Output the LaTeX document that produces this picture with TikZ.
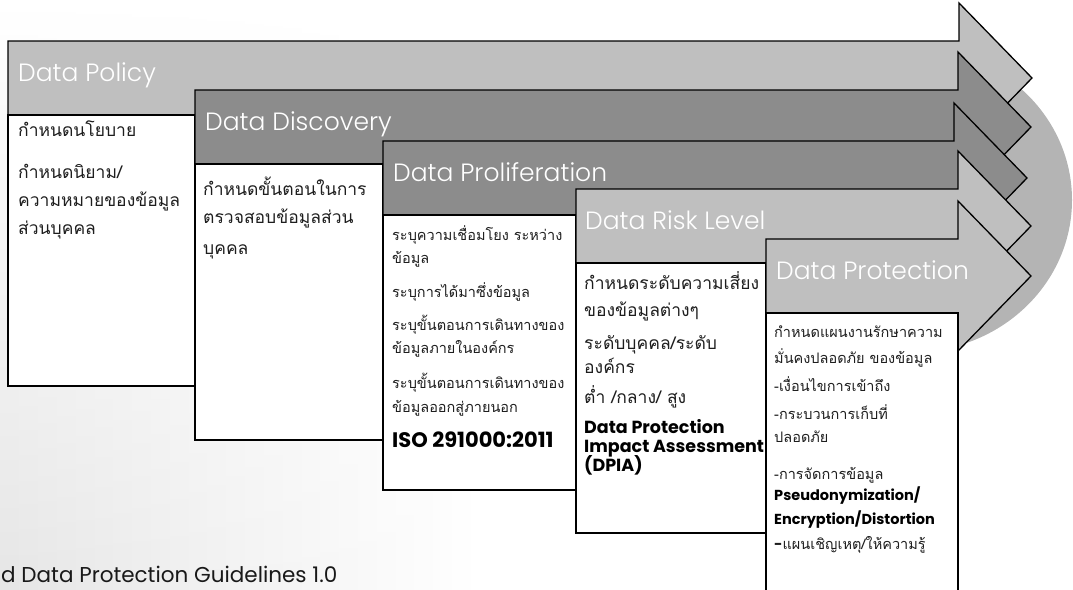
\documentclass[tikz,border=0pt]{standalone}
\usepackage{fontspec}
\usetikzlibrary{fadings}
\setmainfont{Poppins}
\newfontfamily\thai[Script=Thai]{Loma}
\newfontfamily\hdrfont{Poppins Light}

\definecolor{arrowlight}{RGB}{191,191,191}
\definecolor{arrowdark}{RGB}{140,140,140}
\definecolor{discgray}{RGB}{180,180,180}
\definecolor{bodyink}{RGB}{30,30,30}

\tikzset{
  arrowshape/.style={draw=black, line width=1.3pt, line join=miter},
  infobox/.style={draw=black, fill=white, line width=1.3pt},
  hdr/.style={anchor=base west, inner sep=0pt, text=white,
    font=\hdrfont\fontsize{25}{25}\selectfont},
  thaiL/.style={anchor=base west, inner sep=0pt, text=bodyink,
    font=\thai\fontsize{17.5}{17.5}\selectfont},
  thaiS/.style={anchor=base west, inner sep=0pt, text=bodyink,
    font=\thai\fontsize{14.5}{14.5}\selectfont},
  boldtxt/.style={anchor=base west, inner sep=0pt, text=black,
    font=\bfseries\fontsize{#1}{#1}\selectfont},
  boldtxt/.default=16
}

% process arrow: left x, centre y, fill colour, horizontal shift of the head
\newcommand\procarrow[4]{%
  \filldraw[arrowshape, fill=#3]
    (#1,#2-37) -- ({958+#4},#2-37) -- ({958+#4},#2-75) -- ({1031+#4},#2)
    -- ({958+#4},#2+75) -- ({958+#4},#2+37) -- (#1,#2+37) -- cycle;}

\begin{document}
\begin{tikzpicture}[x=1pt, y=-1pt]
\useasboundingbox (0,0) rectangle (1073,589);
\clip (0,0) rectangle (1073,589);

% soft grey wash on the left side of the page
\shade[left color=black!10, right color=white, path fading=north]
  (0,0) rectangle (480,589);

% grey disc behind the arrow heads
\fill[discgray] (912,200) ellipse [x radius=160, y radius=152];

% stages, drawn back to front
\procarrow{8}{78}{arrowlight}{1}
\filldraw[infobox] (8,115) rectangle (195,386);
\procarrow{195}{127}{arrowdark}{0}
\filldraw[infobox] (195,164) rectangle (383,440);
\procarrow{383}{178}{arrowdark}{-4}
\filldraw[infobox] (383,215) rectangle (576,490);
\procarrow{576}{226}{arrowlight}{0}
\filldraw[infobox] (576,263) rectangle (766,533);
\procarrow{766}{276}{arrowlight}{0}
\filldraw[infobox] (766,313) rectangle (958,620);

% stage titles
\node[hdr] (h1) at (18,81)  {Data Policy};
\node[hdr] (h2) at (205,130) {Data Discovery};
\node[hdr] (h3) at (393,181) {Data Proliferation};
\node[hdr] (h4) at (585,229) {Data Risk Level};
\node[hdr] (h5) at (776,279) {Data Protection};

% stage 1
\node[thaiL] (a1) at (18,136) {กำหนดนโยบาย};
\node[thaiL] (a2) at (18,178) {กำหนดนิยาม/};
\node[thaiL] (a3) at (18,206) {ความหมายของข้อมูล};
\node[thaiL] (a4) at (18,234) {ส่วนบุคคล};

% stage 2
\node[thaiL] (b1) at (203,195) {กำหนดขั้นตอนในการ};
\node[thaiL] (b2) at (203,223) {ตรวจสอบข้อมูลส่วน};
\node[thaiL] (b3) at (203,254) {บุคคล};

% stage 3
\node[thaiS] (c1) at (392,240) {ระบุความเชื่อมโยง ระหว่าง};
\node[thaiS] (c2) at (392,263) {ข้อมูล};
\node[thaiS] (c3) at (392,297) {ระบุการได้มาซึ่งข้อมูล};
\node[thaiS] (c4) at (392,330) {ระบุขั้นตอนการเดินทางของ};
\node[thaiS] (c5) at (392,353) {ข้อมูลภายในองค์กร};
\node[thaiS] (c6) at (392,388) {ระบุขั้นตอนการเดินทางของ};
\node[thaiS] (c7) at (392,412) {ข้อมูลออกสู่ภายนอก};
\node[boldtxt=21] (c8) at (392,447) {ISO 291000:2011};

% stage 4
\node[thaiL] (d1) at (584,289) {กำหนดระดับความเสี่ยง};
\node[thaiL] (d2) at (584,316) {ของข้อมูลต่างๆ};
\node[thaiL] (d3) at (584,349) {ระดับบุคคล/ระดับ};
\node[thaiL] (d4) at (584,373) {องค์กร};
\node[thaiL] (d5) at (584,403) {ต่ำ /กลาง/ สูง};
\node[boldtxt=17.5] (d6) at (584,433) {Data Protection};
\node[boldtxt=17.5] (d7) at (584,452) {Impact Assessment};
\node[boldtxt=17.5] (d8) at (584,471) {(DPIA)};

% stage 5
\node[thaiS] (e1) at (774,337) {กำหนดแผนงานรักษาความ};
\node[thaiS] (e2) at (774,363) {มั่นคงปลอดภัย ของข้อมูล};
\node[thaiS] (e3) at (774,391) {-เงื่อนไขการเข้าถึง};
\node[thaiS] (e4) at (774,419) {-กระบวนการเก็บที่};
\node[thaiS] (e5) at (774,442) {ปลอดภัย};
\node[thaiS] (e6) at (774,479) {-การจัดการข้อมูล};
\node[boldtxt=14.5] (e7) at (774,500) {Pseudonymization/};
\node[boldtxt=14.5] (e8) at (774,524) {Encryption/Distortion};
\node[thaiS] (e9) at (774,549) {{\rmfamily\bfseries -}แผนเชิญเหตุ/ให้ความรู้};

% footer
\node[anchor=base west, inner sep=0pt, text=black!90,
  font=\fontsize{21.5}{21.5}\selectfont] (ft) at (1,582) {d Data Protection Guidelines 1.0};
\end{tikzpicture}
\end{document}
